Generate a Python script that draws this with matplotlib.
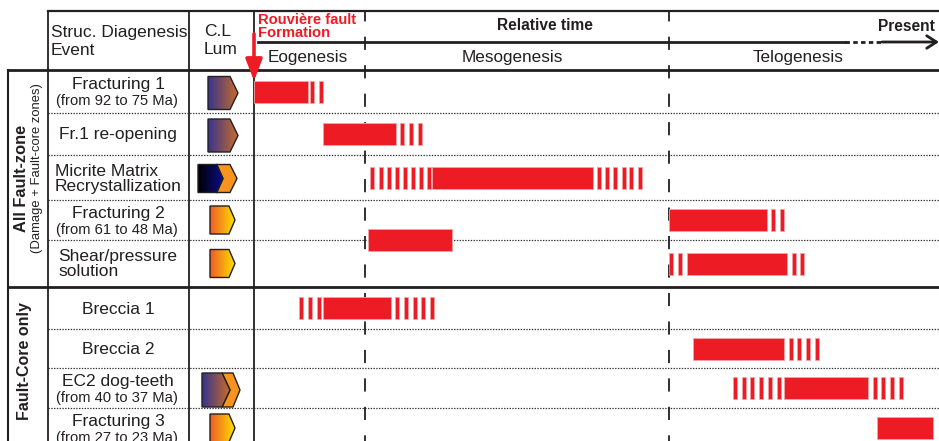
import matplotlib.pyplot as plt
import numpy as np
from matplotlib.colors import LinearSegmentedColormap
from matplotlib.patches import Polygon

plt.rcParams["font.family"] = ["Liberation Sans", "DejaVu Sans"]
plt.rcParams["lines.scale_dashes"] = False

INK = "#231f20"
RED = "#ed1c24"

# events, top to bottom
events = [
    "Fracturing 1",
    "Fr.1 re-opening",
    "Micrite Matrix\nRecrystallization",
    "Fracturing 2",
    "Shear/pressure\nsolution",
    "Breccia 1",
    "Breccia 2",
    "EC2 dog-teeth",
    "Fracturing 3",
]
ages = [
    "(from 92 to 75 Ma)", "", "", "(from 61 to 48 Ma)", "",
    "", "", "(from 40 to 37 Ma)", "(from 27 to 23 Ma)",
]
# cathodoluminescence icon for each event
cl_kind = ["brown", "brown", "micrite", "yellow", "yellow", None, None, "ec2", "yellow"]

groups = ["All Fault-zone", "Fault-Core only"]
group_notes = ["(Damage + Fault-core zones)", ""]
group_rows = [(0, 5), (5, 9)]

# relative time: 0 = Rouvière fault formation, 100 = right edge (towards present)
stages = ["Eogenesis", "Mesogenesis", "Telogenesis"]
stage_ends = [16.2, 60.6]

# solid bars (row may sit between two rows)
solid_rows = [0, 1, 2, 3, 3.5, 4, 5, 6, 7, 8]
solid_start = [0.0, 10.1, 26.0, 60.6, 16.6, 63.2, 10.1, 64.1, 77.4, 90.9]
solid_end = [7.9, 20.7, 49.5, 74.9, 28.9, 77.8, 20.0, 77.4, 89.6, 99.1]

# uncertain parts, drawn as thin stripes (left edge of each stripe)
stripe_starts = [
    [8.2, 9.5],
    [21.3, 22.6, 23.9],
    [16.9, 18.2, 19.4, 20.6, 21.7, 22.9, 24.1, 25.3,
     50.0, 51.2, 52.4, 53.7, 54.8, 56.0],
    [75.5, 76.8],
    [60.6, 61.9, 78.5, 79.7],
    [6.6, 7.9, 9.2, 20.6, 21.9, 23.2, 24.4, 25.7],
    [78.1, 79.3, 80.6, 81.9],
    [69.9, 71.2, 72.4, 73.7, 75.0, 76.3, 90.3, 91.5, 92.8, 94.1],
    [],
]

# layout (pixels)
row_edges = [70, 113, 155, 200, 240, 287, 329, 368, 408, 448]


def row_y(r):
    return np.interp(np.asarray(r, dtype=float) + 0.5, np.arange(len(row_edges)), row_edges)


def gradient_poly(ax, verts, colors):
    verts = np.array(verts, dtype=float)
    poly = Polygon(verts, closed=True, fc="none", ec=INK, lw=1.0, zorder=5)
    ax.add_patch(poly)
    cmap = LinearSegmentedColormap.from_list("g", colors)
    x0, x1 = verts[:, 0].min(), verts[:, 0].max()
    y0, y1 = verts[:, 1].min(), verts[:, 1].max()
    im = ax.imshow(np.linspace(0, 1, 256)[None, :], cmap=cmap, extent=(x0, x1, y1, y0),
                   aspect="auto", interpolation="bilinear", zorder=4)
    im.set_clip_path(poly)


def pentagon(x0, xr, xt, yc, h):
    return [(x0, yc - h), (xr, yc - h), (xt, yc), (xr, yc + h), (x0, yc + h)]


def chevron(x0, xr, xt, yc, h, notch):
    return [(x0, yc - h), (xr, yc - h), (xt, yc), (xr, yc + h), (x0, yc + h), (notch, yc)]


def draw_icon(ax, kind, yc):
    brown = ["#34348f", "#c96b2a"]
    yellow = ["#f05a28", "#fde000"]
    if kind == "brown":
        gradient_poly(ax, pentagon(208, 230, 238, yc + 1.5, 16.5), brown)
    elif kind == "yellow":
        gradient_poly(ax, pentagon(210, 229, 235, yc, 14), yellow)
    elif kind == "micrite":
        ax.add_patch(Polygon(chevron(216, 230, 237, yc + 1, 14, 223), fc="#f7941d",
                             ec=INK, lw=1.0, zorder=4))
        gradient_poly(ax, pentagon(198, 217, 223, yc + 1, 14), ["#000000", "#0c0c8c"])
    elif kind == "ec2":
        ax.add_patch(Polygon(chevron(222, 233, 240, yc + 2, 17, 230), fc="#f7941d",
                             ec=INK, lw=1.0, zorder=4))
        gradient_poly(ax, pentagon(202, 222, 230, yc + 2, 17), brown)


fig = plt.figure(figsize=(9.39, 4.41), dpi=100)
ax = fig.add_axes([0, 0, 1, 1])

# table frame
ax.plot([48, 939], [11, 11], color=INK, lw=1.6)
ax.plot([8, 939], [70, 70], color=INK, lw=2.0)
ax.plot([8, 939], [287, 287], color=INK, lw=2.0)
for x in [48, 189, 254]:
    ax.plot([x, x], [11, 441], color=INK, lw=1.3)
ax.plot([8, 8], [70, 441], color=INK, lw=1.5)
for e in row_edges[1:-1]:
    if e != 287:
        ax.plot([48, 939], [e, e], color="#333333", lw=0.9, ls=(0, (1, 1)))

# header
ax.text(51, 37, "Struc. Diagenesis", fontsize=12.5, color=INK, va="baseline")
ax.text(51, 55, "Event", fontsize=12.5, color=INK, va="baseline")
ax.text(204, 36, "C.L", fontsize=12.5, color=INK, va="baseline")
ax.text(204, 54, "Lum", fontsize=12.5, color=INK, va="baseline")
ax.text(258, 13.5, "Rouvière fault\nFormation", fontsize=10.6, color=RED, weight="bold",
        va="top", linespacing=0.82)
ax.text(545, 30, "Relative time", fontsize=11.2, color=INK, weight="bold",
        ha="center", va="baseline")
ax.text(878, 31, "Present", fontsize=11.2, color=INK, weight="bold", va="baseline")
ax.plot([258, 845], [42, 42], color=INK, lw=2.0)
ax.plot([845, 882], [42, 42], color=INK, lw=2.0, ls=(0, (3.2, 2.4)))
ax.annotate("", xy=(939, 42), xytext=(882, 42), annotation_clip=False,
            arrowprops=dict(arrowstyle="->,head_length=0.7,head_width=0.45", color=INK,
                            lw=2.0, shrinkA=0, shrinkB=0))
for name, xc in zip(stages, [308, 512, 798]):
    ax.text(xc, 62, name, fontsize=12.3, color=INK, ha="center", va="baseline")

# group labels
for (r0, r1), name, note in zip(group_rows, groups, group_notes):
    yc = (row_edges[r0] + row_edges[r1]) / 2
    if note:
        ax.text(22, yc, name, fontsize=11.8, weight="bold", color=INK, rotation=90,
                ha="center", va="center")
        ax.text(37, yc - 10, note, fontsize=9.4, color=INK, rotation=90,
                ha="center", va="center")
    else:
        ax.text(25, 361, name, fontsize=11.5, weight="bold", color=INK, rotation=90,
                ha="center", va="center")

# event labels and CL icons
centers = row_y(np.arange(len(events)))
for name, age, kind, yc in zip(events, ages, cl_kind, centers):
    if age:
        ax.text(118, yc - 2, name, fontsize=12.5, color=INK, ha="center", va="baseline")
        ax.text(117, yc + 14, age, fontsize=10.6, color=INK, ha="center", va="baseline")
    else:
        ax.text(118, yc + 1, name, fontsize=12.5, color=INK, ha="center", va="center",
                multialignment="left", linespacing=1.0)
    if kind:
        draw_icon(ax, kind, yc)

ax.set_xlim(0, 939)
ax.set_ylim(441, 0)
ax.axis("off")

# time chart area
gx = fig.add_axes([254 / 939, 0, 685 / 939, 1])
gx.patch.set_alpha(0)
for t in stage_ends:
    gx.plot([t, t], [11, 441], color=INK, lw=1.3, ls=(2, (9.5, 11)), zorder=1)

gx.barh(row_y(solid_rows), np.subtract(solid_end, solid_start), left=solid_start,
        height=22, color=RED, edgecolor="#f4a3a5", lw=0.6, zorder=2)
for r, starts in enumerate(stripe_starts):
    if starts:
        gx.barh(np.full(len(starts), row_y(r)), 0.6, left=starts, height=22,
                color=RED, edgecolor="#f4a3a5", lw=0.5, zorder=2)

# Rouvière fault formation marker
gx.annotate("", xy=(0, 81), xytext=(0, 34), annotation_clip=False,
            arrowprops=dict(arrowstyle="-|>,head_length=1.3,head_width=0.5", color=RED,
                            lw=2.6, shrinkA=0, shrinkB=0), zorder=6)

gx.set_xlim(0, 100)
gx.set_ylim(441, 0)
gx.axis("off")

fig.savefig("out.png", dpi=100)
